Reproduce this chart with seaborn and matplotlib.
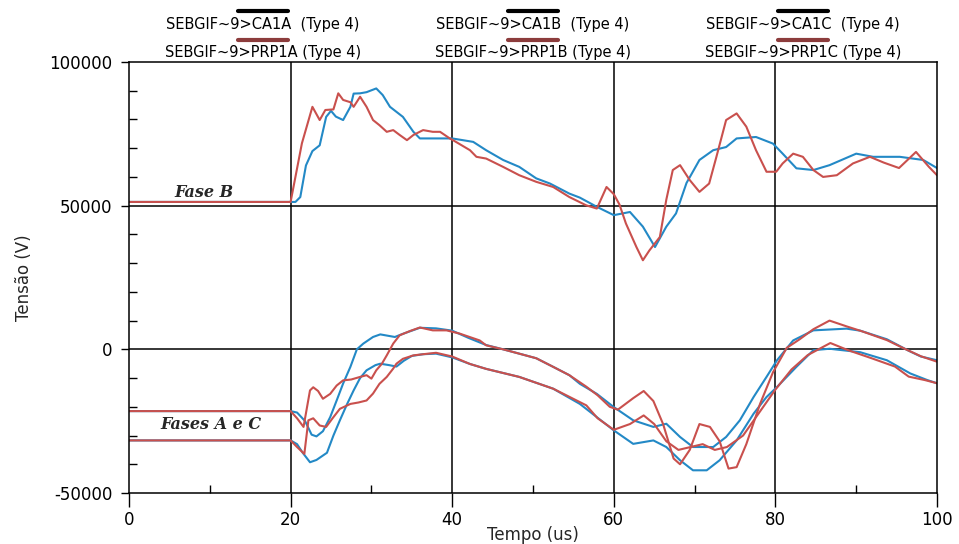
import numpy as np
import pandas as pd
import matplotlib
matplotlib.use("Agg")
import matplotlib.pyplot as plt
from matplotlib.lines import Line2D
from matplotlib.ticker import MultipleLocator
import seaborn as sns

# ============================
# DATA (Tempo em us, Tensão em V)
# ============================
# Fase B - medido (CA1B, azul) e simulado (PRP1B, vermelho)
b_ca_t = [0, 20, 20.6, 21.2, 21.9, 22.7, 23.6, 24.4, 25.0, 25.6, 26.5, 27.4, 27.8, 28.6,
          29.4, 30.6, 31.4, 32.3, 33.9, 35.2, 36.0, 38.0, 40.0, 42.6, 44.2, 46.3, 48.3,
          50.4, 52.1, 54.5, 55.8, 57.9, 60.0, 62.0, 63.6, 65.1, 66.5, 67.7, 69.0, 70.6,
          72.3, 73.9, 75.2, 77.6, 79.7, 80.9, 82.6, 84.7, 86.7, 90.0, 92.1, 95.4, 98.3, 100]
b_ca_v = [51300, 51300, 51300, 53000, 64000, 69000, 71000, 80900, 83000, 81000, 79800,
          84400, 89000, 89100, 89500, 90800, 88500, 84400, 80900, 75700, 73400, 73400,
          73400, 72200, 69300, 65900, 63500, 59500, 57700, 54200, 52800, 49600, 46700,
          47800, 42700, 35600, 42700, 47300, 57900, 65900, 69300, 70400, 73400, 73900,
          71600, 68100, 63000, 62400, 64100, 68100, 67000, 67000, 65900, 63100]

b_prp_t = [0, 20, 21.4, 22.7, 23.6, 24.3, 25.3, 25.9, 26.5, 27.4, 27.8, 28.6, 29.4, 30.2,
           31.0, 31.9, 32.7, 33.5, 34.4, 35.2, 36.4, 37.6, 38.5, 39.7, 40.1, 42.2, 43.0,
           44.2, 46.3, 48.3, 50.4, 52.5, 54.5, 56.6, 57.9, 59.1, 60.0, 60.7, 61.5, 62.8,
           63.6, 64.4, 65.7, 66.5, 67.3, 68.2, 69.4, 70.6, 71.8, 72.7, 73.9, 75.2, 76.4,
           77.6, 78.9, 80.1, 80.9, 82.2, 83.4, 84.7, 85.9, 87.6, 89.6, 91.7, 93.4, 95.3,
           97.4, 99.0, 100]
b_prp_v = [51300, 51300, 71700, 84400, 79800, 83300, 83500, 89100, 86800, 86000, 84400,
           87900, 84400, 79800, 78000, 75700, 76300, 74600, 72800, 74600, 76300, 75700,
           75700, 73400, 72800, 69300, 67000, 66400, 63500, 60600, 58300, 56500, 53000,
           50100, 49000, 56500, 54000, 50400, 43800, 35600, 31000, 34400, 39100, 52100,
           62400, 64100, 58900, 54800, 57700, 67000, 79800, 82100, 77500, 69300, 61800,
           61800, 64700, 68100, 67000, 62400, 60000, 60600, 64700, 67000, 65000, 63100,
           68700, 63500, 60600]

# Fases A e C - curva superior (inicio em -21 kV)
up_ca_t = [0, 20, 20.8, 21.8, 22.6, 23.2, 24.0, 24.9, 25.7, 26.5, 27.4, 28.2, 29.0, 30.2,
           31.1, 32.9, 34.0, 36.0, 38.0, 40.0, 42.0, 44.2, 46.3, 47.5, 50.4, 52.5, 54.5,
           55.8, 57.9, 60.0, 62.4, 64.9, 66.5, 68.2, 69.8, 72.3, 73.9, 75.6, 77.3, 78.9,
           80.2, 82.2, 84.7, 88.8, 90.5, 93.8, 96.5, 98.0, 100]
up_ca_v = [-21500, -21500, -22000, -25000, -29700, -30300, -28500, -23600, -17800, -11900,
           -6100, 0, 2000, 4300, 5200, 4300, 5500, 7500, 7300, 6500, 4000, 1500, 0, -900,
           -3100, -6100, -9000, -12000, -15500, -20100, -24700, -27000, -25900, -30500,
           -34000, -34000, -30500, -24700, -16600, -9600, -3800, 3100, 6600, 7200, 6500,
           3500, -500, -2500, -3800]

up_prp_t = [0, 20, 20.8, 21.6, 22.4, 22.8, 23.4, 24.0, 24.9, 25.7, 26.5, 27.5, 28.6, 29.4,
            30.0, 30.6, 31.3, 31.9, 32.7, 33.5, 34.8, 36.0, 37.6, 39.3, 40.9, 43.4, 44.2,
            46.3, 47.5, 50.4, 52.5, 54.5, 56.6, 58.0, 59.5, 60.5, 62.4, 63.7, 64.9, 66.1,
            67.4, 68.2, 69.4, 70.6, 71.9, 73.1, 74.2, 75.2, 76.4, 78.1, 79.7, 81.4, 83.0,
            84.7, 86.7, 88.8, 90.8, 93.8, 96.3, 98.0, 100]
up_prp_v = [-21500, -21500, -24000, -27000, -14300, -13200, -14500, -17200, -15500, -12600,
            -10800, -10500, -9600, -9000, -10200, -7300, -5000, -2100, 2000, 4900, 6400,
            7600, 6600, 6600, 5500, 3100, 1400, 0, -900, -3100, -6100, -9000, -13000,
            -16000, -20000, -21000, -17000, -14500, -18000, -26000, -38000, -40000, -35000,
            -26000, -27000, -32000, -41500, -41000, -33000, -19000, -8000, 500, 3500, 7000,
            10000, 8000, 6200, 3200, -200, -2400, -4300]

# Fases A e C - curva inferior (inicio em -32 kV)
lo_ca_t = [0, 20, 20.8, 21.5, 22.4, 23.2, 24.5, 25.3, 26.1, 27.0, 27.8, 28.6, 29.4, 30.5,
           31.1, 32.2, 33.1, 34.0, 35.0, 36.4, 38.0, 40.0, 42.2, 44.2, 48.3, 52.5, 55.8,
           57.9, 60.0, 62.4, 64.9, 66.5, 68.2, 69.8, 71.5, 73.1, 75.2, 77.3, 78.9, 80.2,
           82.6, 84.7, 86.7, 90.5, 93.8, 96.7, 98.8, 100]
lo_ca_v = [-31700, -31700, -33000, -36000, -39300, -38500, -36000, -30000, -24700, -19000,
           -14300, -10000, -7300, -5500, -5000, -5500, -6000, -4000, -2300, -1700, -1500,
           -2800, -5100, -6800, -9600, -13700, -19000, -23600, -28200, -32900, -31700,
           -34000, -38600, -42100, -42100, -38600, -31700, -22400, -16600, -13100, -6100,
           -300, 200, -1000, -3800, -8400, -10700, -11800]

lo_prp_t = [0, 20, 20.8, 21.7, 22.2, 22.8, 23.6, 24.4, 25.3, 26.1, 27.4, 28.4, 29.4, 30.2,
            31.0, 31.9, 32.7, 33.1, 33.9, 35.2, 36.4, 38.0, 40.0, 42.2, 44.2, 48.3, 52.5,
            56.6, 58.0, 60.0, 62.0, 63.7, 65.0, 66.5, 68.0, 69.5, 71.0, 72.5, 74.0, 76.0,
            78.0, 80.0, 82.0, 84.0, 86.8, 89.0, 91.9, 94.8, 96.5, 98.5, 100]
lo_prp_v = [-31700, -31700, -34000, -36400, -24700, -24000, -26500, -27000, -23600, -20700,
            -19000, -18500, -17800, -15400, -12000, -9600, -6700, -5000, -3300, -2100,
            -1700, -1200, -2500, -5100, -6800, -9600, -13700, -19500, -24000, -28000,
            -26000, -23000, -26000, -32000, -35000, -34000, -33000, -35000, -34000, -30000,
            -22000, -14000, -7000, -2000, 2200, -300, -3100, -6000, -9500, -10700, -11800]

legend_labels = [["SEBGIF~9>CA1A  (Type 4)", "SEBGIF~9>CA1B  (Type 4)", "SEBGIF~9>CA1C  (Type 4)"],
                 ["SEBGIF~9>PRP1A (Type 4)", "SEBGIF~9>PRP1B (Type 4)", "SEBGIF~9>PRP1C (Type 4)"]]

# ============================
# STYLE
# ============================
sns.set_theme(style="white")
plt.rcParams["font.family"] = ["DejaVu Sans"]
plt.rcParams["axes.unicode_minus"] = False

BLUE = "#2389c6"
RED = "#c9504d"

fig = plt.figure(figsize=(9.59, 5.44), dpi=100)
ax = fig.add_axes([129 / 959, 51 / 544, 808 / 959, 431 / 544])

curves = [
    (b_ca_t, b_ca_v, BLUE), (up_ca_t, up_ca_v, BLUE), (lo_ca_t, lo_ca_v, BLUE),
    (b_prp_t, b_prp_v, RED), (up_prp_t, up_prp_v, RED), (lo_prp_t, lo_prp_v, RED),
]
for t, v, c in curves:
    df = pd.DataFrame({"t": t, "v": v})
    sns.lineplot(data=df, x="t", y="v", color=c, linewidth=1.5, estimator=None,
                 sort=False, ax=ax)

ax.set_xlim(0, 100)
ax.set_ylim(-50000, 100000)
ax.xaxis.set_major_locator(MultipleLocator(20))
ax.xaxis.set_minor_locator(MultipleLocator(10))
ax.yaxis.set_major_locator(MultipleLocator(50000))
ax.yaxis.set_minor_locator(MultipleLocator(10000))

for x in [20, 40, 60, 80]:
    ax.axvline(x, color="black", linewidth=1.1, zorder=1)
for y in [0, 50000]:
    ax.axhline(y, color="black", linewidth=1.1, zorder=1)

for s in ax.spines.values():
    s.set_color("black")
    s.set_linewidth(1.1)

ax.tick_params(axis="both", which="minor", direction="in", length=6, width=1,
               colors="black", bottom=True, left=True)
ax.tick_params(axis="x", which="major", direction="out", length=10, width=1,
               colors="black", labelsize=12, pad=3, bottom=True)
ax.tick_params(axis="y", which="major", direction="out", length=6, width=1,
               colors="black", labelsize=12, pad=6, left=True)

ax.set_xlabel("Tempo (us)", fontsize=12, labelpad=-2)
ax.set_ylabel("Tensão (V)", fontsize=12, labelpad=12)

ax.text(9.3, 54500, "Fase B", family="DejaVu Serif", style="italic", weight="bold",
        fontsize=11.5, ha="center", va="center")
ax.text(10.1, -26000, "Fases A e C", family="DejaVu Serif", style="italic", weight="bold",
        fontsize=11.5, ha="center", va="center")

# legend: line sample above each label, 3 columns x 2 rows
col_x = [263 / 959, 533 / 959, 803 / 959]
row_line_y = [1 - 11 / 544, 1 - 40 / 544]
row_text_y = [1 - 25 / 544, 1 - 53 / 544]
row_color = ["black", "#8c3c3c"]
half = 25 / 959
for r in range(2):
    for c in range(3):
        fig.add_artist(Line2D([col_x[c] - half, col_x[c] + half], [row_line_y[r]] * 2,
                              color=row_color[r], linewidth=3, transform=fig.transFigure))
        fig.text(col_x[c], row_text_y[r], legend_labels[r][c], fontsize=10.5,
                 ha="center", va="center", color="black")

fig.savefig("out.png", dpi=100)
